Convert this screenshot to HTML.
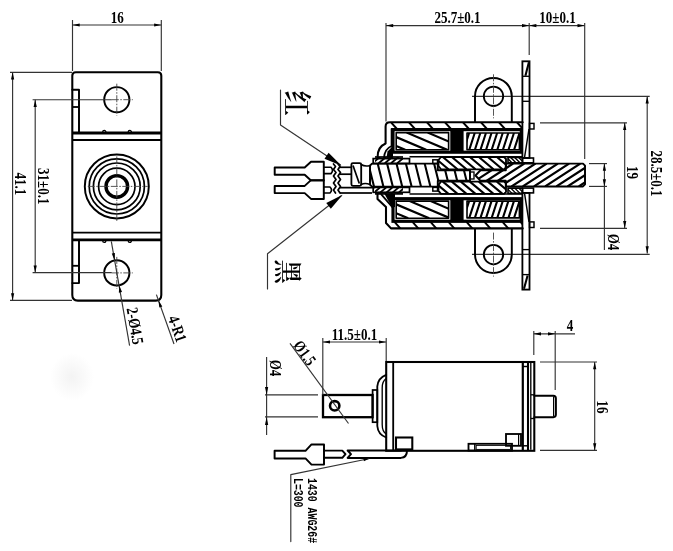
<!DOCTYPE html>
<html lang="zh"><head><meta charset="utf-8"><title>Drawing</title>
<style>html,body{margin:0;padding:0;background:#fff}svg{display:block;filter:grayscale(1)}</style></head>
<body>
<svg width="673" height="551" viewBox="0 0 673 551">
<defs>
<radialGradient id="sm"><stop offset="0" stop-color="#f3f3f3"/><stop offset="1" stop-color="#ffffff"/></radialGradient>
<clipPath id="c1"><path d="M390,122.3 L522.7,122.3 L522.7,129 L391.5,129 Z"/></clipPath>
<clipPath id="c2"><path d="M396.2,132.6 L448.6,132.6 L448.6,149.8 L396.2,149.8 Z"/></clipPath>
<clipPath id="c3"><path d="M467,133 L519.4,133 L519.4,149.8 L467,149.8 Z"/></clipPath>
<clipPath id="c4"><path d="M375,157 L403,157 L403,163.3 L375,163.3 Z"/></clipPath>
<clipPath id="c5"><path d="M441,157 L504,157 L506,159 L506,167.5 L504,169.3 L441,169.3 L438.5,166 L438.5,160 Z"/></clipPath>
<clipPath id="c6"><path d="M508,157.5 L522.5,157.5 L522.5,162.8 L508,162.8 Z"/></clipPath>
<clipPath id="c7"><path d="M390,228.6 L522.7,228.6 L522.7,221.9 L391.5,221.9 Z"/></clipPath>
<clipPath id="c8"><path d="M396.2,218.3 L448.6,218.3 L448.6,201.1 L396.2,201.1 Z"/></clipPath>
<clipPath id="c9"><path d="M467,217.9 L519.4,217.9 L519.4,201.1 L467,201.1 Z"/></clipPath>
<clipPath id="c10"><path d="M375,193.9 L403,193.9 L403,187.6 L375,187.6 Z"/></clipPath>
<clipPath id="c11"><path d="M441,193.9 L504,193.9 L506,191.9 L506,183.4 L504,181.6 L441,181.6 L438.5,184.9 L438.5,190.9 Z"/></clipPath>
<clipPath id="c12"><path d="M508,193.4 L522.5,193.4 L522.5,188.1 L508,188.1 Z"/></clipPath>
<clipPath id="c13"><path d="M372,163.6 L437.8,163.6 L437.8,170.2 L470,170.2 L470,180.8 L437.8,180.8 L437.8,186.6 L372,186.6 L370,184.6 L370,165.6 Z"/></clipPath>
<clipPath id="c14"><path d="M475.5,175.5 L480.5,170.2 L505.8,170.2 L505.8,163.6 L583,163.6 L585,165.6 L585,184.4 L583,186.4 L505.8,186.4 L505.8,180.8 L480.5,180.8 Z"/></clipPath>
</defs>
<rect width="673" height="551" fill="#fff"/>
<ellipse cx="72" cy="377" rx="22" ry="24" fill="url(#sm)"/>
<path d="M75.8,72.3 H157.8 Q161.3,72.3 161.3,75.8 V295.1 Q161.3,300.6 155.8,300.6 H77.8 Q72.3,300.6 72.3,295.1 V75.8 Q72.3,72.3 75.8,72.3 Z" fill="none" stroke="#000" stroke-width="2.07" stroke-linejoin="round" stroke-linecap="round"/>
<line x1="72.3" y1="133" x2="161.3" y2="133" stroke="#000" stroke-width="2.81" />
<line x1="72.3" y1="140" x2="161.3" y2="140" stroke="#000" stroke-width="1.95" />
<line x1="72.3" y1="239.8" x2="161.3" y2="239.8" stroke="#000" stroke-width="2.81" />
<line x1="72.3" y1="232.6" x2="161.3" y2="232.6" stroke="#000" stroke-width="1.95" />
<path d="M72.3,89.7 L79,89.7 L79,132.6" fill="none" stroke="#000" stroke-width="1.95" stroke-linejoin="round" stroke-linecap="round"/>
<line x1="72.3" y1="107" x2="79" y2="107" stroke="#000" stroke-width="1.83" />
<path d="M72.3,283.1 L79,283.1 L79,240.2" fill="none" stroke="#000" stroke-width="1.95" stroke-linejoin="round" stroke-linecap="round"/>
<line x1="72.3" y1="265.8" x2="79" y2="265.8" stroke="#000" stroke-width="1.83" />
<path d="M102.7,132 A1.6,1.6 0 0 1 105.89999999999999,132" fill="none" stroke="#000" stroke-width="1.34" stroke-linejoin="round" stroke-linecap="round"/>
<path d="M102.7,240.8 A1.6,1.6 0 0 0 105.89999999999999,240.8" fill="none" stroke="#000" stroke-width="1.34" stroke-linejoin="round" stroke-linecap="round"/>
<path d="M128.20000000000002,132 A1.6,1.6 0 0 1 131.4,132" fill="none" stroke="#000" stroke-width="1.34" stroke-linejoin="round" stroke-linecap="round"/>
<path d="M128.20000000000002,240.8 A1.6,1.6 0 0 0 131.4,240.8" fill="none" stroke="#000" stroke-width="1.34" stroke-linejoin="round" stroke-linecap="round"/>
<circle cx="116.8" cy="99.7" r="12.6" fill="none" stroke="#000" stroke-width="1.95"/>
<line x1="111.8" y1="99.7" x2="132.8" y2="99.7" stroke="#444" stroke-width="0.9" stroke-dasharray="7 1.5 1.5 1.5"/>
<line x1="116.8" y1="83.7" x2="116.8" y2="115.7" stroke="#444" stroke-width="0.9" stroke-dasharray="7 1.5 1.5 1.5"/>
<circle cx="116.8" cy="272.9" r="12.6" fill="none" stroke="#000" stroke-width="1.95"/>
<line x1="111.8" y1="272.9" x2="132.8" y2="272.9" stroke="#444" stroke-width="0.9" stroke-dasharray="7 1.5 1.5 1.5"/>
<line x1="116.8" y1="256.9" x2="116.8" y2="288.9" stroke="#444" stroke-width="0.9" stroke-dasharray="7 1.5 1.5 1.5"/>
<circle cx="116.8" cy="186.4" r="32" fill="none" stroke="#000" stroke-width="1.95"/>
<circle cx="116.8" cy="186.4" r="27.6" fill="none" stroke="#000" stroke-width="1.71"/>
<circle cx="116.8" cy="186.4" r="23.4" fill="none" stroke="#000" stroke-width="1.71"/>
<circle cx="116.8" cy="186.4" r="18.2" fill="none" stroke="#000" stroke-width="1.71"/>
<circle cx="116.8" cy="186.4" r="10.8" fill="none" stroke="#000" stroke-width="3.42"/>
<line x1="87.8" y1="186.4" x2="147.8" y2="186.4" stroke="#444" stroke-width="0.9" stroke-dasharray="7 1.5 1.5 1.5"/>
<line x1="116.8" y1="156.4" x2="116.8" y2="222.4" stroke="#444" stroke-width="0.9" stroke-dasharray="7 1.5 1.5 1.5"/>
<line x1="72.5" y1="20" x2="72.5" y2="71" stroke="#333" stroke-width="1.15" />
<line x1="161.3" y1="20" x2="161.3" y2="71" stroke="#333" stroke-width="1.15" />
<line x1="72.5" y1="25" x2="161.3" y2="25" stroke="#333" stroke-width="1.15" />
<path d="M72.5,25 L79.7,23.4 L79.7,26.6 Z" fill="#000" stroke="none"/>
<path d="M161.3,25 L154.1,26.6 L154.1,23.4 Z" fill="#000" stroke="none"/>
<text transform="translate(117.2,22.6) rotate(0) scale(0.79,1)" font-size="16.5" text-anchor="middle" font-family="&quot;Liberation Serif&quot;, &quot;Noto Serif CJK SC&quot;, serif" font-weight="bold" fill="#000" >16</text>
<line x1="10" y1="72.3" x2="72" y2="72.3" stroke="#333" stroke-width="1.15" />
<line x1="10" y1="300.4" x2="72" y2="300.4" stroke="#333" stroke-width="1.15" />
<line x1="12.6" y1="72.3" x2="12.6" y2="300.4" stroke="#333" stroke-width="1.15" />
<path d="M12.6,72.3 L14.2,79.5 L11,79.5 Z" fill="#000" stroke="none"/>
<path d="M12.6,300.4 L11,293.2 L14.2,293.2 Z" fill="#000" stroke="none"/>
<text transform="translate(15.2,183.8) rotate(90) scale(0.79,1)" font-size="16.5" text-anchor="middle" font-family="&quot;Liberation Serif&quot;, &quot;Noto Serif CJK SC&quot;, serif" font-weight="bold" fill="#000" >41.1</text>
<line x1="32.6" y1="99.7" x2="111.8" y2="99.7" stroke="#333" stroke-width="1.15" />
<line x1="32.6" y1="272.6" x2="111.8" y2="272.6" stroke="#333" stroke-width="1.15" />
<line x1="35.2" y1="99.7" x2="35.2" y2="272.6" stroke="#333" stroke-width="1.15" />
<path d="M35.2,99.7 L36.8,106.9 L33.6,106.9 Z" fill="#000" stroke="none"/>
<path d="M35.2,272.6 L33.6,265.4 L36.8,265.4 Z" fill="#000" stroke="none"/>
<text transform="translate(37.7,186.2) rotate(90) scale(0.79,1)" font-size="16.5" text-anchor="middle" font-family="&quot;Liberation Serif&quot;, &quot;Noto Serif CJK SC&quot;, serif" font-weight="bold" fill="#000" >31±0.1</text>
<line x1="111.3" y1="241.3" x2="129.6" y2="345.7" stroke="#333" stroke-width="1.15" />
<path d="M114.6,260.4 L111.78,253.58 L114.93,253.03 Z" fill="#000" stroke="none"/>
<path d="M119.2,285.3 L122.02,292.12 L118.87,292.67 Z" fill="#000" stroke="none"/>
<text transform="translate(126.4,308.5) rotate(80.06) scale(0.79,1)" font-size="16.5" text-anchor="start" font-family="&quot;Liberation Serif&quot;, &quot;Noto Serif CJK SC&quot;, serif" font-weight="bold" fill="#000" >2-Ø4.5</text>
<line x1="156.4" y1="294.6" x2="174" y2="344" stroke="#333" stroke-width="1.15" />
<path d="M158.4,300.2 L162.32,306.45 L159.31,307.52 Z" fill="#000" stroke="none"/>
<text transform="translate(167.8,318) rotate(70.39) scale(0.79,1)" font-size="16.5" text-anchor="start" font-family="&quot;Liberation Serif&quot;, &quot;Noto Serif CJK SC&quot;, serif" font-weight="bold" fill="#000" >4-R1</text>
<line x1="386" y1="23" x2="386" y2="121.5" stroke="#333" stroke-width="1.15" />
<line x1="529.2" y1="23" x2="529.2" y2="55" stroke="#333" stroke-width="1.15" />
<line x1="584.7" y1="23" x2="584.7" y2="159" stroke="#333" stroke-width="1.15" />
<line x1="386" y1="25.6" x2="529.2" y2="25.6" stroke="#333" stroke-width="1.15" />
<path d="M386,25.6 L393.2,24 L393.2,27.2 Z" fill="#000" stroke="none"/>
<path d="M529.2,25.6 L522,27.2 L522,24 Z" fill="#000" stroke="none"/>
<line x1="529.2" y1="25.6" x2="584.7" y2="25.6" stroke="#333" stroke-width="1.15" />
<path d="M529.2,25.6 L536.4,24 L536.4,27.2 Z" fill="#000" stroke="none"/>
<path d="M584.7,25.6 L577.5,27.2 L577.5,24 Z" fill="#000" stroke="none"/>
<text transform="translate(457.5,23.2) rotate(0) scale(0.79,1)" font-size="16.5" text-anchor="middle" font-family="&quot;Liberation Serif&quot;, &quot;Noto Serif CJK SC&quot;, serif" font-weight="bold" fill="#000" >25.7±0.1</text>
<text transform="translate(557.5,23.2) rotate(0) scale(0.79,1)" font-size="16.5" text-anchor="middle" font-family="&quot;Liberation Serif&quot;, &quot;Noto Serif CJK SC&quot;, serif" font-weight="bold" fill="#000" >10±0.1</text>
<line x1="472" y1="96.3" x2="649.7" y2="96.3" stroke="#333" stroke-width="1.15" />
<line x1="472" y1="254.4" x2="649.7" y2="254.4" stroke="#333" stroke-width="1.15" />
<line x1="647.2" y1="96.3" x2="647.2" y2="253.5" stroke="#333" stroke-width="1.15" />
<path d="M647.2,96.3 L648.8,103.5 L645.6,103.5 Z" fill="#000" stroke="none"/>
<path d="M647.2,253.5 L645.6,246.3 L648.8,246.3 Z" fill="#000" stroke="none"/>
<text transform="translate(651.2,173.5) rotate(90) scale(0.79,1)" font-size="16.5" text-anchor="middle" font-family="&quot;Liberation Serif&quot;, &quot;Noto Serif CJK SC&quot;, serif" font-weight="bold" fill="#000" >28.5±0.1</text>
<line x1="540" y1="122.8" x2="627" y2="122.8" stroke="#333" stroke-width="1.15" />
<line x1="540" y1="228.3" x2="627" y2="228.3" stroke="#333" stroke-width="1.15" />
<line x1="624.7" y1="122.8" x2="624.7" y2="228.3" stroke="#333" stroke-width="1.15" />
<path d="M624.7,122.8 L626.3,130 L623.1,130 Z" fill="#000" stroke="none"/>
<path d="M624.7,228.3 L623.1,221.1 L626.3,221.1 Z" fill="#000" stroke="none"/>
<text transform="translate(627.3,172.5) rotate(90) scale(0.79,1)" font-size="16.5" text-anchor="middle" font-family="&quot;Liberation Serif&quot;, &quot;Noto Serif CJK SC&quot;, serif" font-weight="bold" fill="#000" >19</text>
<line x1="589" y1="163.6" x2="607" y2="163.6" stroke="#333" stroke-width="1.15" />
<line x1="589" y1="186.4" x2="607" y2="186.4" stroke="#333" stroke-width="1.15" />
<line x1="604.4" y1="163.6" x2="604.4" y2="186.4" stroke="#333" stroke-width="1.15" />
<path d="M604.4,163.6 L606,170.8 L602.8,170.8 Z" fill="#000" stroke="none"/>
<path d="M604.4,186.4 L602.8,179.2 L606,179.2 Z" fill="#000" stroke="none"/>
<line x1="604.4" y1="186.4" x2="604.4" y2="250" stroke="#333" stroke-width="1.15" />
<text transform="translate(607.8,242) rotate(90) scale(0.79,1)" font-size="16.5" text-anchor="middle" font-family="&quot;Liberation Serif&quot;, &quot;Noto Serif CJK SC&quot;, serif" font-weight="bold" fill="#000" >Ø4</text>
<path d="M475,122 V96.3 A18.4,18.4 0 0 1 511.8,96.3 V122" fill="none" stroke="#000" stroke-width="1.95" stroke-linejoin="round" stroke-linecap="round"/>
<circle cx="493.5" cy="96.3" r="9.7" fill="none" stroke="#000" stroke-width="1.83"/>
<line x1="493.5" y1="74.3" x2="493.5" y2="118.3" stroke="#444" stroke-width="0.9" stroke-dasharray="7 1.5 1.5 1.5"/>
<path clip-path="url(#c1)" d="M372.97,122.3 L379,129 M390.97,122.3 L397,129 M408.97,122.3 L415,129 M426.97,122.3 L433,129 M444.97,122.3 L451,129 M462.97,122.3 L469,129 M480.97,122.3 L487,129 M498.97,122.3 L505,129 M516.97,122.3 L523,129 M534.97,122.3 L541,129" stroke="#000" stroke-width="1.95" fill="none"/>
<path d="M522.7,122.3 H390 Q385.6,122.3 385.6,126.5 V143.5 Q377.4,147 377.6,157.5" fill="none" stroke="#000" stroke-width="2.07" stroke-linejoin="round" stroke-linecap="round"/>
<path d="M391.6,129 V146 Q384.5,149 384,158" fill="none" stroke="#000" stroke-width="1.83" stroke-linejoin="round" stroke-linecap="round"/>
<path d="M387.5,151.5 L393,146 V157.8 H386.5 Z" fill="#000"/>
<rect x="393" y="129.6" width="128.3" height="22.6" rx="0" fill="none" stroke="#000" stroke-width="3.17"/>
<path clip-path="url(#c2)" d="M343.68,132.6 L384.2,149.8 M364.68,132.6 L405.2,149.8 M385.68,132.6 L426.2,149.8 M406.68,132.6 L447.2,149.8 M427.68,132.6 L468.2,149.8 M448.68,132.6 L489.2,149.8 M469.68,132.6 L510.2,149.8 M490.68,132.6 L531.2,149.8" stroke="#000" stroke-width="2.2" fill="none"/>
<path d="M396.2,132.6 L448.6,132.6 L448.6,149.8 L396.2,149.8 Z" fill="none" stroke="#000" stroke-width="1.59" stroke-linejoin="round" stroke-linecap="round"/>
<rect x="450.3" y="129.6" width="13.3" height="22.6" fill="#000"/>
<path clip-path="url(#c3)" d="M457.94,133 L452.48,149.8 M463.54,133 L458.08,149.8 M469.14,133 L463.68,149.8 M474.74,133 L469.28,149.8 M480.34,133 L474.88,149.8 M485.94,133 L480.48,149.8 M491.54,133 L486.08,149.8 M497.14,133 L491.68,149.8 M502.74,133 L497.28,149.8 M508.34,133 L502.88,149.8 M513.94,133 L508.48,149.8 M519.54,133 L514.08,149.8 M525.14,133 L519.68,149.8" stroke="#000" stroke-width="2.07" fill="none"/>
<path d="M467,133 L519.4,133 L519.4,149.8 L467,149.8 Z" fill="none" stroke="#000" stroke-width="1.59" stroke-linejoin="round" stroke-linecap="round"/>
<path clip-path="url(#c4)" d="M361.29,157 L353.78,163.3 M367.49,157 L359.98,163.3 M373.69,157 L366.18,163.3 M379.89,157 L372.38,163.3 M386.09,157 L378.58,163.3 M392.29,157 L384.78,163.3 M398.49,157 L390.98,163.3 M404.69,157 L397.18,163.3 M410.89,157 L403.38,163.3" stroke="#000" stroke-width="1.83" fill="none"/>
<rect x="373.2" y="158.6" width="36.3" height="4.9" rx="0" fill="none" stroke="#000" stroke-width="1.71"/>
<line x1="375" y1="157" x2="403" y2="157" stroke="#000" stroke-width="1.71" />
<line x1="409.5" y1="156.8" x2="522" y2="156.8" stroke="#000" stroke-width="1.46" />
<rect x="432.8" y="159.8" width="4.7" height="3.7" rx="0" fill="none" stroke="#000" stroke-width="1.46"/>
<path clip-path="url(#c5)" d="M415.84,157 L430.5,169.3 M424.84,157 L439.5,169.3 M433.84,157 L448.5,169.3 M442.84,157 L457.5,169.3 M451.84,157 L466.5,169.3 M460.84,157 L475.5,169.3 M469.84,157 L484.5,169.3 M478.84,157 L493.5,169.3 M487.84,157 L502.5,169.3 M496.84,157 L511.5,169.3 M505.84,157 L520.5,169.3 M514.84,157 L529.5,169.3 M523.84,157 L538.5,169.3" stroke="#000" stroke-width="2.07" fill="none"/>
<path d="M441,157 L504,157 L506,159 L506,167.5 L504,169.3 L441,169.3 L438.5,166 L438.5,160 Z" fill="none" stroke="#000" stroke-width="1.83" stroke-linejoin="round" stroke-linecap="round"/>
<path clip-path="url(#c6)" d="M498.7,157.5 L504,162.8 M502.7,157.5 L508,162.8 M506.7,157.5 L512,162.8 M510.7,157.5 L516,162.8 M514.7,157.5 L520,162.8 M518.7,157.5 L524,162.8 M522.7,157.5 L528,162.8 M526.7,157.5 L532,162.8 M530.7,157.5 L536,162.8" stroke="#000" stroke-width="1.34" fill="none"/>
<path d="M508,157.5 L522.5,157.5 L522.5,162.8 L508,162.8 Z" fill="none" stroke="#000" stroke-width="1.59" stroke-linejoin="round" stroke-linecap="round"/>
<rect x="522.5" y="158" width="11" height="4.8" rx="0" fill="none" stroke="#000" stroke-width="1.59"/>
<rect x="529.5" y="123.4" width="4.5" height="5.6" rx="0" fill="none" stroke="#000" stroke-width="1.46"/>
<rect x="522.4" y="61.3" width="7.1" height="96.7" rx="0" fill="none" stroke="#000" stroke-width="1.83"/>
<line x1="529" y1="129" x2="524.6" y2="157" stroke="#000" stroke-width="1.46" />
<line x1="528.9" y1="62.3" x2="525.4" y2="75.8" stroke="#000" stroke-width="2.07" />
<line x1="522.4" y1="76.3" x2="529.5" y2="76.3" stroke="#000" stroke-width="1.34" />
<line x1="522.4" y1="101.3" x2="529.5" y2="101.3" stroke="#000" stroke-width="1.34" />
<path d="M475,228.89999999999998 V254.59999999999997 A18.4,18.4 0 0 0 511.8,254.59999999999997 V228.89999999999998" fill="none" stroke="#000" stroke-width="1.95" stroke-linejoin="round" stroke-linecap="round"/>
<circle cx="493.5" cy="254.6" r="9.7" fill="none" stroke="#000" stroke-width="1.83"/>
<line x1="493.5" y1="232.6" x2="493.5" y2="276.6" stroke="#444" stroke-width="0.9" stroke-dasharray="7 1.5 1.5 1.5"/>
<path clip-path="url(#c7)" d="M376.47,221.9 L382.5,228.6 M394.47,221.9 L400.5,228.6 M412.47,221.9 L418.5,228.6 M430.47,221.9 L436.5,228.6 M448.47,221.9 L454.5,228.6 M466.47,221.9 L472.5,228.6 M484.47,221.9 L490.5,228.6 M502.47,221.9 L508.5,228.6 M520.47,221.9 L526.5,228.6 M538.47,221.9 L544.5,228.6" stroke="#000" stroke-width="1.95" fill="none"/>
<path d="M522.7,228.4 H391 L386,223 V207 L377.5,199 V194" fill="none" stroke="#000" stroke-width="2.07" stroke-linejoin="round" stroke-linecap="round"/>
<path d="M381.3,194.3 L392.6,207.5" fill="none" stroke="#000" stroke-width="1.83" stroke-linejoin="round" stroke-linecap="round"/>
<path d="M384.5,194 H395 V207 L392,207.5 Z" fill="#000"/>
<rect x="393" y="198.7" width="128.3" height="22.6" rx="0" fill="none" stroke="#000" stroke-width="3.17"/>
<path clip-path="url(#c8)" d="M346.68,201.1 L387.2,218.3 M367.68,201.1 L408.2,218.3 M388.68,201.1 L429.2,218.3 M409.68,201.1 L450.2,218.3 M430.68,201.1 L471.2,218.3 M451.68,201.1 L492.2,218.3 M472.68,201.1 L513.2,218.3 M493.68,201.1 L534.2,218.3" stroke="#000" stroke-width="2.2" fill="none"/>
<path d="M396.2,218.3 L448.6,218.3 L448.6,201.1 L396.2,201.1 Z" fill="none" stroke="#000" stroke-width="1.59" stroke-linejoin="round" stroke-linecap="round"/>
<rect x="450.3" y="198.7" width="13.3" height="22.6" fill="#000"/>
<path clip-path="url(#c9)" d="M457.94,201.1 L452.48,217.9 M463.54,201.1 L458.08,217.9 M469.14,201.1 L463.68,217.9 M474.74,201.1 L469.28,217.9 M480.34,201.1 L474.88,217.9 M485.94,201.1 L480.48,217.9 M491.54,201.1 L486.08,217.9 M497.14,201.1 L491.68,217.9 M502.74,201.1 L497.28,217.9 M508.34,201.1 L502.88,217.9 M513.94,201.1 L508.48,217.9 M519.54,201.1 L514.08,217.9 M525.14,201.1 L519.68,217.9" stroke="#000" stroke-width="2.07" fill="none"/>
<path d="M467,217.9 L519.4,217.9 L519.4,201.1 L467,201.1 Z" fill="none" stroke="#000" stroke-width="1.59" stroke-linejoin="round" stroke-linecap="round"/>
<path clip-path="url(#c10)" d="M361.29,187.6 L353.78,193.9 M367.49,187.6 L359.98,193.9 M373.69,187.6 L366.18,193.9 M379.89,187.6 L372.38,193.9 M386.09,187.6 L378.58,193.9 M392.29,187.6 L384.78,193.9 M398.49,187.6 L390.98,193.9 M404.69,187.6 L397.18,193.9 M410.89,187.6 L403.38,193.9" stroke="#000" stroke-width="1.83" fill="none"/>
<rect x="373.2" y="187.4" width="36.3" height="4.9" rx="0" fill="none" stroke="#000" stroke-width="1.71"/>
<line x1="375" y1="193.9" x2="403" y2="193.9" stroke="#000" stroke-width="1.71" />
<line x1="409.5" y1="194.1" x2="522" y2="194.1" stroke="#000" stroke-width="1.46" />
<rect x="432.8" y="187.4" width="4.7" height="3.7" rx="0" fill="none" stroke="#000" stroke-width="1.46"/>
<path clip-path="url(#c11)" d="M415.84,181.6 L430.5,193.9 M424.84,181.6 L439.5,193.9 M433.84,181.6 L448.5,193.9 M442.84,181.6 L457.5,193.9 M451.84,181.6 L466.5,193.9 M460.84,181.6 L475.5,193.9 M469.84,181.6 L484.5,193.9 M478.84,181.6 L493.5,193.9 M487.84,181.6 L502.5,193.9 M496.84,181.6 L511.5,193.9 M505.84,181.6 L520.5,193.9 M514.84,181.6 L529.5,193.9 M523.84,181.6 L538.5,193.9" stroke="#000" stroke-width="2.07" fill="none"/>
<path d="M441,193.9 L504,193.9 L506,191.9 L506,183.4 L504,181.6 L441,181.6 L438.5,184.9 L438.5,190.9 Z" fill="none" stroke="#000" stroke-width="1.83" stroke-linejoin="round" stroke-linecap="round"/>
<path clip-path="url(#c12)" d="M498.7,188.1 L504,193.4 M502.7,188.1 L508,193.4 M506.7,188.1 L512,193.4 M510.7,188.1 L516,193.4 M514.7,188.1 L520,193.4 M518.7,188.1 L524,193.4 M522.7,188.1 L528,193.4 M526.7,188.1 L532,193.4 M530.7,188.1 L536,193.4" stroke="#000" stroke-width="1.34" fill="none"/>
<path d="M508,193.4 L522.5,193.4 L522.5,188.1 L508,188.1 Z" fill="none" stroke="#000" stroke-width="1.59" stroke-linejoin="round" stroke-linecap="round"/>
<rect x="522.5" y="188.1" width="11" height="4.8" rx="0" fill="none" stroke="#000" stroke-width="1.59"/>
<rect x="529.5" y="221.9" width="4.5" height="5.6" rx="0" fill="none" stroke="#000" stroke-width="1.46"/>
<rect x="522.4" y="192.9" width="7.1" height="96.7" rx="0" fill="none" stroke="#000" stroke-width="1.83"/>
<line x1="529" y1="221.9" x2="524.6" y2="193.9" stroke="#000" stroke-width="1.46" />
<line x1="524" y1="288.8" x2="527.6" y2="275.6" stroke="#000" stroke-width="2.07" />
<line x1="522.4" y1="274.6" x2="529.5" y2="274.6" stroke="#000" stroke-width="1.34" />
<line x1="522.4" y1="249.6" x2="529.5" y2="249.6" stroke="#000" stroke-width="1.34" />
<path clip-path="url(#c13)" d="M358.87,163.6 L364.6,186.6 M368.27,163.6 L374,186.6 M377.67,163.6 L383.4,186.6 M387.07,163.6 L392.8,186.6 M396.47,163.6 L402.2,186.6 M405.87,163.6 L411.6,186.6 M415.27,163.6 L421,186.6 M424.67,163.6 L430.4,186.6 M434.07,163.6 L439.8,186.6 M443.47,163.6 L449.2,186.6 M452.87,163.6 L458.6,186.6 M462.27,163.6 L468,186.6 M471.67,163.6 L477.4,186.6 M481.07,163.6 L486.8,186.6" stroke="#000" stroke-width="2.07" fill="none"/>
<path d="M372,163.6 L437.8,163.6 L437.8,170.2 L470,170.2 L470,180.8 L437.8,180.8 L437.8,186.6 L372,186.6 L370,184.6 L370,165.6 Z" fill="none" stroke="#000" stroke-width="1.95" stroke-linejoin="round" stroke-linecap="round"/>
<rect x="470" y="172" width="4" height="7" rx="0" fill="none" stroke="#000" stroke-width="1.34"/>
<path clip-path="url(#c14)" d="M434.69,163.6 L399.58,186.4 M445.89,163.6 L410.78,186.4 M457.09,163.6 L421.98,186.4 M468.29,163.6 L433.18,186.4 M479.49,163.6 L444.38,186.4 M490.69,163.6 L455.58,186.4 M501.89,163.6 L466.78,186.4 M513.09,163.6 L477.98,186.4 M524.29,163.6 L489.18,186.4 M535.49,163.6 L500.38,186.4 M546.69,163.6 L511.58,186.4 M557.89,163.6 L522.78,186.4 M569.09,163.6 L533.98,186.4 M580.29,163.6 L545.18,186.4 M591.49,163.6 L556.38,186.4 M602.69,163.6 L567.58,186.4 M613.89,163.6 L578.78,186.4 M625.09,163.6 L589.98,186.4" stroke="#000" stroke-width="2.2" fill="none"/>
<path d="M475.5,175.5 L480.5,170.2 L505.8,170.2 L505.8,163.6 L583,163.6 L585,165.6 L585,184.4 L583,186.4 L505.8,186.4 L505.8,180.8 L480.5,180.8 Z" fill="none" stroke="#000" stroke-width="1.95" stroke-linejoin="round" stroke-linecap="round"/>
<rect x="351.4" y="163.1" width="9.8" height="22.7" rx="1.5" fill="none" stroke="#000" stroke-width="1.83"/>
<line x1="353" y1="165.5" x2="359.3" y2="183.5" stroke="#000" stroke-width="1.71" />
<path d="M361.2,164.5 Q365,167 370,165.5 M361.2,184.5 Q365,182.5 370,184.5" fill="none" stroke="#000" stroke-width="1.59" stroke-linejoin="round" stroke-linecap="round"/>
<path d="M274.7,167.5 L304.7,167.5 L311,161.7 L323.8,161.7 L323.8,180.5 L311,180.5 L304.7,174.7 L274.7,174.7 Z" fill="none" stroke="#000" stroke-width="1.95" stroke-linejoin="round" stroke-linecap="round"/>
<path d="M274.7,185.9 L304.7,185.9 L311,180.1 L323.8,180.1 L323.8,198.9 L311,198.9 L304.7,193.1 L274.7,193.1 Z" fill="none" stroke="#000" stroke-width="1.95" stroke-linejoin="round" stroke-linecap="round"/>
<path d="M323.8,167.3 H331 Q334,170.5 331,173.6 H323.8" fill="none" stroke="#000" stroke-width="1.59" stroke-linejoin="round" stroke-linecap="round"/>
<path d="M323.8,187 H330 Q333,190 330,193 H323.8" fill="none" stroke="#000" stroke-width="1.59" stroke-linejoin="round" stroke-linecap="round"/>
<path d="M333.5,164 l2,2.5 l-2,3 l2.5,3 l-2.5,3.5 l2.5,3.5 l-2.5,3.5 l2.5,3.5 l-2.5,3.5 l2,3" fill="none" stroke="#000" stroke-width="1.71" stroke-linejoin="round" stroke-linecap="round"/>
<path d="M338,164 l2,2.5 l-2,3 l2.5,3 l-2.5,3.5 l2.5,3.5 l-2.5,3.5 l2.5,3.5 l-2.5,3.5 l2,3" fill="none" stroke="#000" stroke-width="1.71" stroke-linejoin="round" stroke-linecap="round"/>
<line x1="340" y1="167.3" x2="351.4" y2="167.3" stroke="#000" stroke-width="1.71" />
<line x1="340" y1="174.2" x2="351.4" y2="174.2" stroke="#000" stroke-width="1.71" />
<line x1="340" y1="187.7" x2="374.7" y2="187.7" stroke="#000" stroke-width="1.71" />
<line x1="340" y1="193" x2="372" y2="193" stroke="#000" stroke-width="1.71" />
<path d="M280.5,90 L280.5,125 L340.5,165" fill="none" stroke="#333" stroke-width="1.15" stroke-linejoin="round" stroke-linecap="round"/>
<path d="M341.5,165.7 L324.47,158.79 L328.58,152.64 Z" fill="#000" stroke="none"/>
<path d="M267.5,289 L267.5,253.8 L341.3,195.8" fill="none" stroke="#333" stroke-width="1.15" stroke-linejoin="round" stroke-linecap="round"/>
<path d="M342.7,194.7 L330.83,208.73 L326.26,202.91 Z" fill="#000" stroke="none"/>
<text transform="translate(286,103.15) rotate(90) scale(0.87,1)" font-size="29" text-anchor="middle" font-family="&quot;Liberation Serif&quot;, &quot;Noto Serif CJK SC&quot;, serif" font-weight="600" fill="#000" >红</text>
<text transform="translate(276.9,271.6) rotate(90) scale(0.84,1)" font-size="29" text-anchor="middle" font-family="&quot;Liberation Serif&quot;, &quot;Noto Serif CJK SC&quot;, serif" font-weight="600" fill="#000" >黑</text>
<rect x="386.2" y="362" width="148.1" height="88.8" rx="0" fill="none" stroke="#000" stroke-width="2.07"/>
<line x1="393.2" y1="362" x2="393.2" y2="450.8" stroke="#000" stroke-width="1.83" />
<line x1="522.8" y1="362" x2="522.8" y2="450.8" stroke="#000" stroke-width="2.2" />
<line x1="528" y1="362" x2="528" y2="450.8" stroke="#000" stroke-width="2.07" />
<line x1="530.8" y1="363" x2="530.8" y2="449.8" stroke="#000" stroke-width="1.34" />
<line x1="522.8" y1="366.5" x2="528" y2="366.5" stroke="#000" stroke-width="1.46" />
<line x1="522.8" y1="445.8" x2="528" y2="445.8" stroke="#000" stroke-width="1.46" />
<line x1="530.8" y1="394.8" x2="534.3" y2="394.8" stroke="#000" stroke-width="1.34" />
<line x1="530.8" y1="418.5" x2="534.3" y2="418.5" stroke="#000" stroke-width="1.34" />
<path d="M534.3,395.8 H553.3 Q555.9,395.8 555.9,398.4 V414.6 Q555.9,417.2 553.3,417.2 H534.3" fill="none" stroke="#000" stroke-width="1.95" stroke-linejoin="round" stroke-linecap="round"/>
<line x1="553.6" y1="396.5" x2="553.6" y2="416.5" stroke="#000" stroke-width="1.22" />
<rect x="323" y="395" width="49.6" height="22.2" rx="0" fill="none" stroke="#000" stroke-width="2.32"/>
<circle cx="334.7" cy="405.8" r="4.7" fill="none" stroke="#000" stroke-width="2.56"/>
<rect x="372.6" y="390" width="4.7" height="32.2" rx="0" fill="none" stroke="#000" stroke-width="1.71"/>
<path d="M386.2,374.8 Q378,378 377.3,386.3 V426 Q378,434.5 386.2,437.5" fill="none" stroke="#000" stroke-width="1.83" stroke-linejoin="round" stroke-linecap="round"/>
<path d="M386.2,378.5 Q382.2,381 382.2,388 V424.5 Q382.2,431.5 386.2,434" fill="none" stroke="#000" stroke-width="1.34" stroke-linejoin="round" stroke-linecap="round"/>
<rect x="396" y="437.5" width="16.3" height="11.9" rx="0" fill="none" stroke="#000" stroke-width="2.07"/>
<rect x="506" y="434" width="15" height="11.8" rx="0" fill="none" stroke="#000" stroke-width="1.83"/>
<line x1="518.6" y1="434" x2="518.6" y2="445.8" stroke="#000" stroke-width="1.22" />
<rect x="468.5" y="443.8" width="43.5" height="6.8" rx="0" fill="none" stroke="#000" stroke-width="1.83"/>
<line x1="474.8" y1="443.8" x2="474.8" y2="450.6" stroke="#000" stroke-width="1.46" />
<rect x="476.2" y="445.4" width="34.3" height="4" rx="0" fill="none" stroke="#000" stroke-width="0.9"/>
<path d="M274.6,450.8 L305.5,450.8 L311.5,444.4 L324,444.4 L324,464.6 L311.5,464.6 L305.5,458.4 L274.6,458.4 Z" fill="none" stroke="#000" stroke-width="1.95" stroke-linejoin="round" stroke-linecap="round"/>
<path d="M324,450.6 L342.3,450.6 L345.5,454.2 L342.3,457.8 L324,457.8" fill="none" stroke="#000" stroke-width="1.95" stroke-linejoin="round" stroke-linecap="round"/>
<path d="M401,450.5 H347.6 L351,454.2 L347.6,457.9 H401 Q407,457.6 407,450.6" fill="none" stroke="#000" stroke-width="1.95" stroke-linejoin="round" stroke-linecap="round"/>
<line x1="322.8" y1="338" x2="322.8" y2="395" stroke="#333" stroke-width="1.15" />
<line x1="386.2" y1="338" x2="386.2" y2="361" stroke="#333" stroke-width="1.15" />
<line x1="322.8" y1="342" x2="386.2" y2="342" stroke="#333" stroke-width="1.15" />
<path d="M322.8,342 L330,340.4 L330,343.6 Z" fill="#000" stroke="none"/>
<path d="M386.2,342 L379,343.6 L379,340.4 Z" fill="#000" stroke="none"/>
<text transform="translate(354.5,339.6) rotate(0) scale(0.79,1)" font-size="16.5" text-anchor="middle" font-family="&quot;Liberation Serif&quot;, &quot;Noto Serif CJK SC&quot;, serif" font-weight="bold" fill="#000" >11.5±0.1</text>
<line x1="265" y1="394.9" x2="318" y2="394.9" stroke="#333" stroke-width="1.15" />
<line x1="265" y1="416.9" x2="318" y2="416.9" stroke="#333" stroke-width="1.15" />
<line x1="266.6" y1="357" x2="266.6" y2="435" stroke="#333" stroke-width="1.15" />
<path d="M266.6,394.9 L265,386.9 L268.2,386.9 Z" fill="#000" stroke="none"/>
<path d="M266.6,416.9 L268.2,424.9 L265,424.9 Z" fill="#000" stroke="none"/>
<text transform="translate(269.8,368) rotate(90) scale(0.79,1)" font-size="16.5" text-anchor="middle" font-family="&quot;Liberation Serif&quot;, &quot;Noto Serif CJK SC&quot;, serif" font-weight="bold" fill="#000" >Ø4</text>
<line x1="290" y1="343.4" x2="348.5" y2="423.5" stroke="#333" stroke-width="1.15" />
<text transform="translate(292.5,345.5) rotate(53.86) scale(0.79,1)" font-size="16.5" text-anchor="start" font-family="&quot;Liberation Serif&quot;, &quot;Noto Serif CJK SC&quot;, serif" font-weight="bold" fill="#000" >Ø1.5</text>
<line x1="533.8" y1="331" x2="533.8" y2="355" stroke="#333" stroke-width="1.15" />
<line x1="555.2" y1="331" x2="555.2" y2="390" stroke="#333" stroke-width="1.15" />
<line x1="533.8" y1="333.8" x2="575" y2="333.8" stroke="#333" stroke-width="1.15" />
<path d="M533.8,333.8 L541,332.2 L541,335.4 Z" fill="#000" stroke="none"/>
<path d="M555.2,333.8 L548,335.4 L548,332.2 Z" fill="#000" stroke="none"/>
<text transform="translate(570,331.2) rotate(0) scale(0.79,1)" font-size="16.5" text-anchor="middle" font-family="&quot;Liberation Serif&quot;, &quot;Noto Serif CJK SC&quot;, serif" font-weight="bold" fill="#000" >4</text>
<line x1="540" y1="362" x2="597" y2="362" stroke="#333" stroke-width="1.15" />
<line x1="540" y1="450.4" x2="597" y2="450.4" stroke="#333" stroke-width="1.15" />
<line x1="594.7" y1="362" x2="594.7" y2="450.4" stroke="#333" stroke-width="1.15" />
<path d="M594.7,362 L596.3,369.2 L593.1,369.2 Z" fill="#000" stroke="none"/>
<path d="M594.7,450.4 L593.1,443.2 L596.3,443.2 Z" fill="#000" stroke="none"/>
<text transform="translate(596.6,407) rotate(90) scale(0.79,1)" font-size="16.5" text-anchor="middle" font-family="&quot;Liberation Serif&quot;, &quot;Noto Serif CJK SC&quot;, serif" font-weight="bold" fill="#000" >16</text>
<path d="M368.6,458.7 L290.8,474.6 L290.8,541.6" fill="none" stroke="#333" stroke-width="1.15" stroke-linejoin="round" stroke-linecap="round"/>
<path d="M369.5,458.4 L363.94,461.16 L363.3,458.02 Z" fill="#000" stroke="none"/>
<text transform="translate(308.3,478) rotate(90) scale(0.76,1)" font-size="13" text-anchor="start" font-family="&quot;Liberation Mono&quot;, monospace" font-weight="bold" fill="#000" >1430 AWG26#</text>
<text transform="translate(294.4,478) rotate(90) scale(0.82,1)" font-size="12" text-anchor="start" font-family="&quot;Liberation Mono&quot;, monospace" font-weight="bold" fill="#000" >L=300</text>
</svg>
</body></html>
